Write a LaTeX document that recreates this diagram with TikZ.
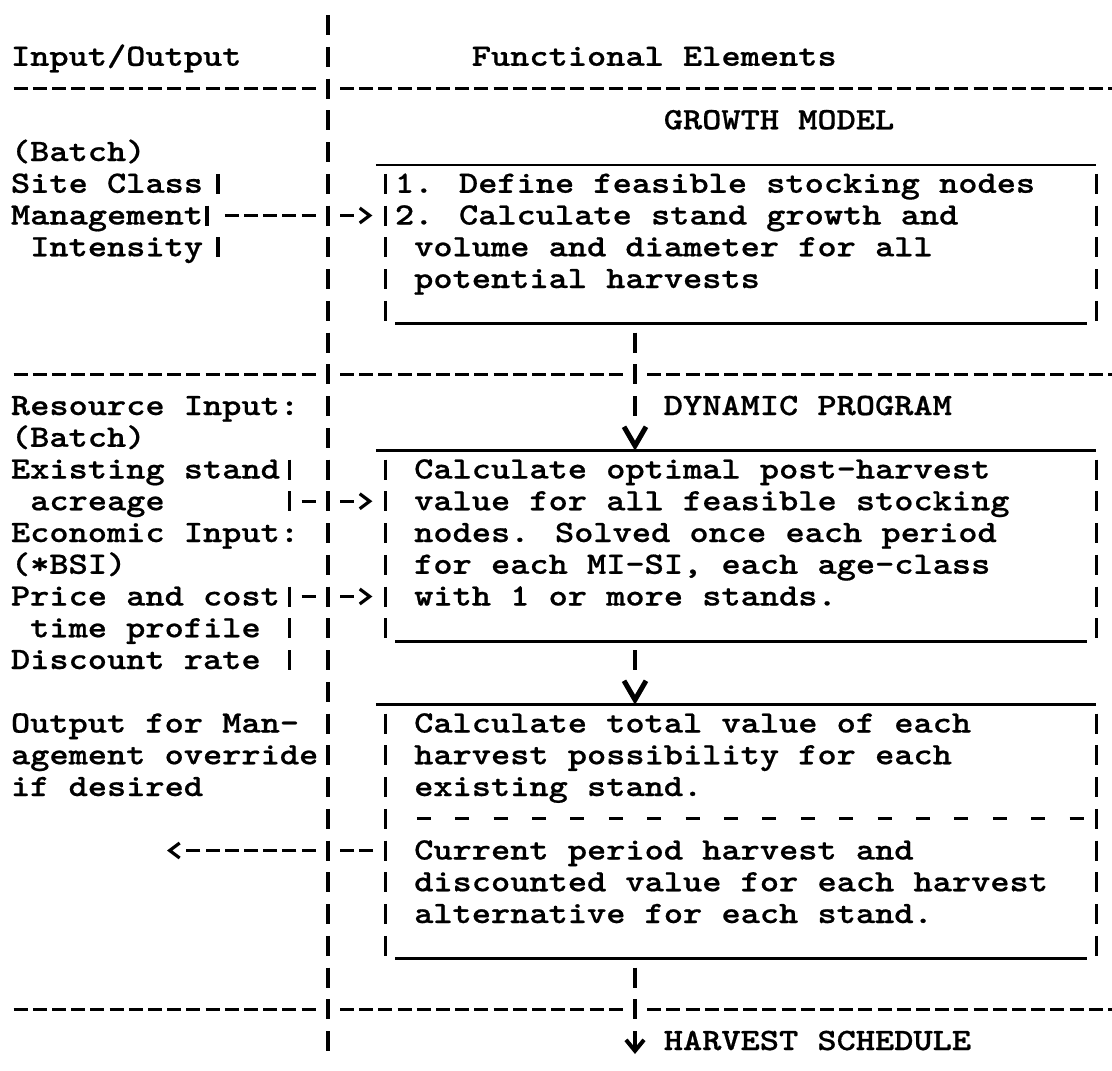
\documentclass[tikz,border=0pt]{standalone}
\usepackage{fontspec}
\usetikzlibrary{arrows.meta}
\newfontfamily\twfont{lmmonolt10-bold.otf}[FakeStretch=1.18,FakeBold=0.6]
\newcommand{\colx}[1]{11+19.2*#1}
\newcommand{\rowc}[1]{25+31.75*#1}
\newcommand{\rowb}[1]{34+31.75*#1}
\newcommand{\tw}[1]{#1}
\newcommand{\tybox}[1]{%
  \draw[uline] ([xshift=-9.6pt]#1.north west) -- (#1.north east);
  \draw[uline] ([xshift=9.6pt]#1.south west) -- ([xshift=-9.6pt]#1.south east);
  \draw[vbar] ([yshift=-8.75pt]#1.north west) -- ([yshift=3pt]#1.south west);
  \draw[vbar] ([yshift=-8.75pt]#1.north east) -- ([yshift=3pt]#1.south east);}
\begin{document}
\begin{tikzpicture}[x=1pt,y=-1pt,
  txt/.style={anchor=base west, inner sep=0pt, outer sep=0pt,
    font=\twfont\fontsize{31}{31}\selectfont},
  vbar/.style={line width=3.4pt, dash pattern=on 20pt off 11.75pt},
  hdash/.style={line width=3.2pt, dash pattern=on 14pt off 5.2pt},
  uline/.style={line width=2.8pt},
  tbar/.style={line width=3.4pt},
  head/.style={-{Straight Barb[length=10pt,width=15pt,line width=3.2pt]}},
  vhead/.style={-{Straight Barb[length=19pt,width=22pt,line width=5pt]}},
  dhead/.style={-{Straight Barb[length=11pt,width=18pt,line width=4pt]}},
  boxn/.style={draw=none, inner sep=0pt, outer sep=0pt},
]
\useasboundingbox (0,0) rectangle (1112,1071);
\fill[white] (0,0) rectangle (1112,1071);

% main vertical separator
\coordinate (mainTop) at (327.8,15);
\coordinate (mainBot) at (327.8,1051);
\draw[vbar] (mainTop) -- (mainBot);

% horizontal dashed separators
\foreach \r in {2,11,31} {\draw[hdash] (13.6,\rowc{\r}) -- (316,\rowc{\r});}
\draw[hdash] (340,\rowc{2}) -- (1124,\rowc{2});
\foreach \r in {11,31} {
  \draw[hdash] (340,\rowc{\r}) -- (626,\rowc{\r});
  \draw[hdash] (647.2,\rowc{\r}) -- (1124,\rowc{\r});}

% texts, left column
\node[txt] (io) at (\colx{0},\rowb{1}) {\tw{Input/Output}};
\node[txt] (bat1) at (\colx{0},\rowb{4}) {\tw{(Batch)}};
\node[txt] (sc) at (\colx{0},\rowb{5}) {\tw{Site Class}};
\node[txt] (mg) at (\colx{0},\rowb{6}) {\tw{Management}};
\node[txt] (in) at (\colx{1},\rowb{7}) {\tw{Intensity}};
\node[txt] (ri) at (\colx{0},\rowb{12}) {\tw{Resource Input:}};
\node[txt] (bat2) at (\colx{0},\rowb{13}) {\tw{(Batch)}};
\node[txt] (es) at (\colx{0},\rowb{14}) {\tw{Existing stand}};
\node[txt] (ac) at (\colx{1},\rowb{15}) {\tw{acreage}};
\node[txt] (ei) at (\colx{0},\rowb{16}) {\tw{Economic Input:}};
\node[txt] (bsi) at (\colx{0},\rowb{17}) {\tw{(*BSI)}};
\node[txt] (pc) at (\colx{0},\rowb{18}) {\tw{Price and cost}};
\node[txt] (tp) at (\colx{1},\rowb{19}) {\tw{time profile}};
\node[txt] (dr) at (\colx{0},\rowb{20}) {\tw{Discount rate}};
\node[txt] (om1) at (\colx{0},\rowb{22}) {\tw{Output for Man-}};
\node[txt] (om2) at (\colx{0},\rowb{23}) {\tw{agement override}};
\node[txt] (om3) at (\colx{0},\rowb{24}) {\tw{if desired}};

% bracket bars of the left column
\foreach \r/\xx in {5/218,6/207,7/218,14/289.4,15/289.4,18/289.4,19/289.4,20/289.4}
  {\draw[tbar] (\xx,\rowc{\r}-10) -- (\xx,\rowc{\r}+10);}

% texts, right column
\node[txt] (fe) at (\colx{24},\rowb{1}) {\tw{Functional Elements}};
\node[txt] (gmt) at (\colx{34},\rowb{3}) {\tw{GROWTH MODEL}};
\node[txt] (dpt) at (\colx{34},\rowb{12}) {\tw{DYNAMIC PROGRAM}};
\node[txt] (hs) at (\colx{34},\rowb{32}) {\tw{HARVEST SCHEDULE}};

% boxes
\node[boxn, minimum width=710.8pt, minimum height=158.75pt] (b1) at (740.8,244.375) {};
\node[boxn, minimum width=710.8pt, minimum height=190.5pt] (b2) at (740.8,546) {};
\node[boxn, minimum width=710.8pt, minimum height=254pt] (b3) at (740.8,831.75) {};
\tybox{b1}
\tybox{b2}
\tybox{b3}

\node[txt] (g1) at (\colx{20},\rowb{5}) {\tw{1. Define feasible stocking nodes}};
\node[txt] (g2) at (\colx{20},\rowb{6}) {\tw{2. Calculate stand growth and}};
\node[txt] (g3) at (\colx{21},\rowb{7}) {\tw{volume and diameter for all}};
\node[txt] (g4) at (\colx{21},\rowb{8}) {\tw{potential harvests}};

\node[txt] (d1) at (\colx{21},\rowb{14}) {\tw{Calculate optimal post-harvest}};
\node[txt] (d2) at (\colx{21},\rowb{15}) {\tw{value for all feasible stocking}};
\node[txt] (d3) at (\colx{21},\rowb{16}) {\tw{nodes. Solved once each period}};
\node[txt] (d4) at (\colx{21},\rowb{17}) {\tw{for each MI-SI, each age-class}};
\node[txt] (d5) at (\colx{21},\rowb{18}) {\tw{with 1 or more stands.}};

\node[txt] (h1) at (\colx{21},\rowb{22}) {\tw{Calculate total value of each}};
\node[txt] (h2) at (\colx{21},\rowb{23}) {\tw{harvest possibility for each}};
\node[txt] (h3) at (\colx{21},\rowb{24}) {\tw{existing stand.}};
\draw[line width=3.2pt, dash pattern=on 14pt off 24.4pt] (\colx{21}+2.6,\rowc{25}) -- (\colx{55}+16.6,\rowc{25});
\node[txt] (h4) at (\colx{21},\rowb{26}) {\tw{Current period harvest and}};
\node[txt] (h5) at (\colx{21},\rowb{27}) {\tw{discounted value for each harvest}};
\node[txt] (h6) at (\colx{21},\rowb{28}) {\tw{alternative for each stand.}};

% connector coordinates
\coordinate (mgbar) at (207,\rowc{6});
\coordinate (acbar) at (289.4,\rowc{15});
\coordinate (pcbar) at (289.4,\rowc{18});
\coordinate (outtip) at (167,\rowc{26});
\coordinate (c32) at (635,0);
\coordinate (hsend) at (635,1054);

% input arrows
\draw[hdash, dash pattern=on 14pt off 5.2pt on 14pt off 5.2pt on 14pt off 5.2pt on 14pt off 5.2pt on 14pt off 24.4pt on 14pt off 60pt,
  head, shorten <=17.8pt, shorten >=13pt] (mgbar) -- (b1.west |- mgbar);
\draw[hdash, dash pattern=on 14pt off 24.4pt on 14pt off 60pt,
  head, shorten <=12.2pt, shorten >=13pt] (acbar) -- (b2.west |- acbar);
\draw[hdash, dash pattern=on 14pt off 24.4pt on 14pt off 60pt,
  head, shorten <=12.2pt, shorten >=13pt] (pcbar) -- (b2.west |- pcbar);
% output arrow
\draw[hdash, dash pattern=on 14pt off 5.2pt on 14pt off 24.4pt on 14pt off 5.2pt on 14pt off 5.2pt on 14pt off 5.2pt on 14pt off 5.2pt on 14pt off 5.2pt on 14pt off 5.2pt on 14pt off 60pt,
  head, shorten <=12.2pt] (b3.west |- outtip) -- (outtip);

% flow between boxes
\draw[vbar, dash pattern=on 20pt off 11.75pt on 20pt off 11.75pt on 20pt off 60pt,
  vhead, shorten <=8.75pt] (b1.south -| c32) -- (b2.north -| c32);
\draw[vbar, dash pattern=on 20pt off 60pt,
  vhead, shorten <=8.75pt] (b2.south -| c32) -- (b3.north -| c32);
\draw[vbar, dash pattern=on 20pt off 11.75pt on 20pt off 11.75pt on 60pt off 1pt,
  dhead, shorten <=8.75pt] (b3.south -| c32) -- (hsend);
\end{tikzpicture}
\end{document}
